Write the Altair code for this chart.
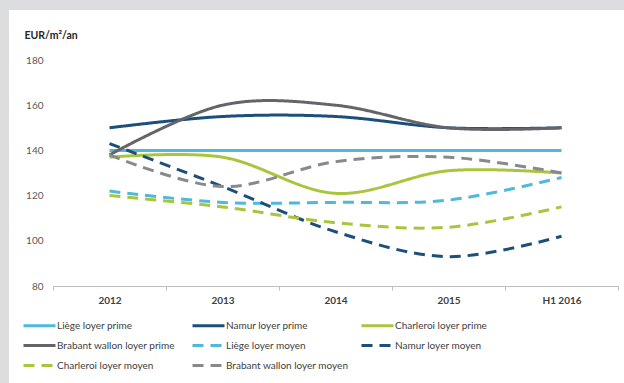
import altair as alt
import pandas as pd

years = ["2012", "2013", "2014", "2015", "H1 2016"]
series = [
    "Liège loyer prime", "Namur loyer prime", "Charleroi loyer prime",
    "Brabant wallon loyer prime", "Liège loyer moyen", "Namur loyer moyen",
    "Charleroi loyer moyen", "Brabant wallon loyer moyen",
]
liege_prime = [140, 140, 140, 140, 140]
namur_prime = [150, 155, 155, 150, 150]
charleroi_prime = [137, 137, 121, 131, 130]
brabant_prime = [138, 160, 160, 150, 150]
liege_moyen = [122, 117, 117, 118, 128]
namur_moyen = [143, 124, 104, 93, 102]
charleroi_moyen = [120, 115, 108, 106, 115]
brabant_moyen = [138, 124, 135, 137, 130]

values = [liege_prime, namur_prime, charleroi_prime, brabant_prime,
          liege_moyen, namur_moyen, charleroi_moyen, brabant_moyen]
colors = ["#4fb8dc", "#1d4f7c", "#a9c53d", "#636569",
          "#4fb8dc", "#1d4f7c", "#a9c53d", "#87898c"]
dashes = [[1, 0]] * 4 + [[11, 7]] * 4

rows = []
for s, vals in zip(series, values):
    for y, v in zip(years, vals):
        rows.append({"series": s, "year": y, "value": v})
df = pd.DataFrame(rows)

FONT = "Lato"
W, H = 565, 226
PAD = {"left": 53, "top": 60, "right": 6, "bottom": 97}

legend_kw = dict(
    orient="none", legendX=-31, legendY=256, columns=3, direction="horizontal",
    title=None, symbolType="M-1,0H3", symbolSize=256, symbolStrokeWidth=3,
    labelFont=FONT, labelFontSize=10, labelColor="#404040",
    gridAlign="all", columnPadding=6, rowPadding=4, labelOffset=16,
    padding=0, zindex=1,
)

frame = alt.Chart(pd.DataFrame({"a": [0]})).mark_rect(color="white").encode(
    x=alt.value(-44), x2=alt.value(W + PAD["right"]),
    y=alt.value(-50), y2=alt.value(H + PAD["bottom"]),
)

lines = alt.Chart(df).mark_line(strokeWidth=3, interpolate="cardinal").encode(
    x=alt.X(
        "year:N", sort=years, bandPosition=0.5,
        scale=alt.Scale(type="band", paddingInner=0, paddingOuter=0),
        axis=alt.Axis(
            title=None, labelAngle=0, labelFont=FONT, labelFontWeight="bold",
            labelFontSize=10, labelColor="#404040", domainColor="#bfbfbf",
            tickColor="#bfbfbf", tickSize=4, labelPadding=5, tickBand="extent",
            zindex=1,
        ),
    ),
    y=alt.Y(
        "value:Q", scale=alt.Scale(domain=[80, 180]),
        axis=alt.Axis(
            values=[80, 100, 120, 140, 160, 180], domain=False, ticks=False,
            grid=False, labelPadding=10, labelFont=FONT, labelFontSize=10,
            labelColor="#595959", title="EUR/m²/an", titleAngle=0,
            titleX=-29, titleY=-22, titleAlign="left", titleBaseline="alphabetic",
            titleFont=FONT, titleFontWeight="bold", titleFontSize=10.5,
            titleColor="#262626", zindex=1,
        ),
    ),
    color=alt.Color("series:N", scale=alt.Scale(domain=series, range=colors),
                    legend=alt.Legend(**legend_kw)),
    strokeDash=alt.StrokeDash("series:N", scale=alt.Scale(domain=series, range=dashes),
                              legend=alt.Legend(**legend_kw)),
)

chart = alt.layer(frame, lines).properties(
    width=W, height=H, background="#dcdddf",
    padding=PAD, autosize=alt.AutoSizeParams(type="none"),
).configure_view(stroke=None)

chart.save("out.html", embed_options={"renderer": "svg", "actions": False})
